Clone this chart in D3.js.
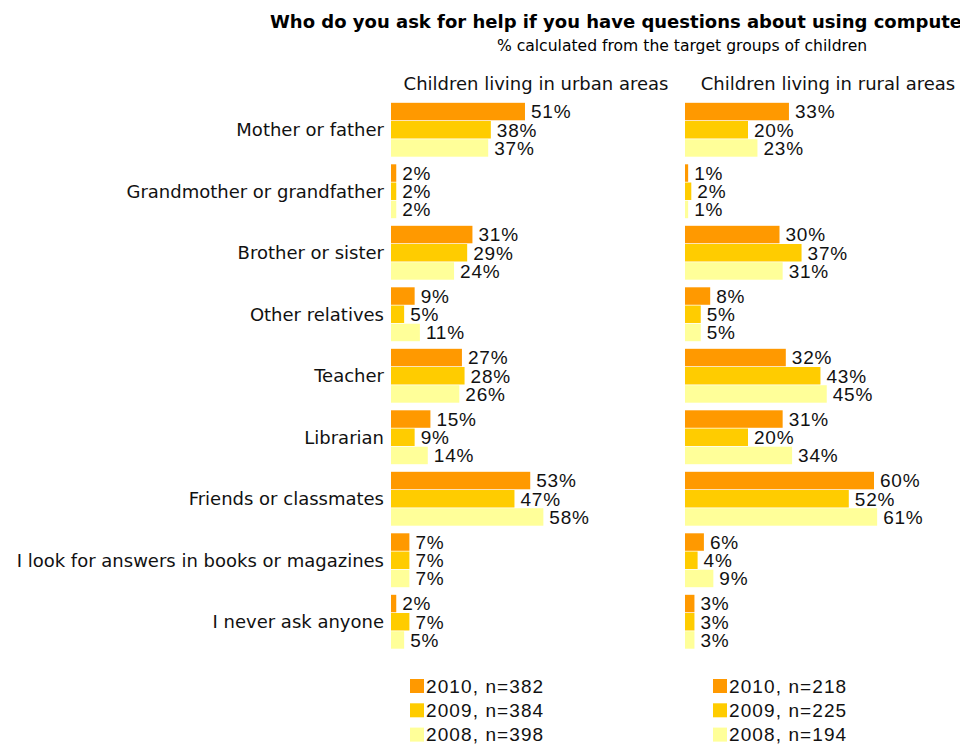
<!DOCTYPE html>
<html>
<head>
<meta charset="utf-8">
<script src="https://cdn.jsdelivr.net/npm/d3@7"></script>
<style>
  html, body { margin: 0; padding: 0; background: #fff; }
  svg { display: block; }
</style>
</head>
<body>
<script>
// Categories (answers to the question)
const categories = [
  "Mother or father",
  "Grandmother or grandfather",
  "Brother or sister",
  "Other relatives",
  "Teacher",
  "Librarian",
  "Friends or classmates",
  "I look for answers in books or magazines",
  "I never ask anyone"
];

// Survey years, drawn top to bottom within each category
const years = ["2010", "2009", "2008"];

// Urban children, % per year
const urban2010 = [51, 2, 31, 9, 27, 15, 53, 7, 2];
const urban2009 = [38, 2, 29, 5, 28, 9, 47, 7, 7];
const urban2008 = [37, 2, 24, 11, 26, 14, 58, 7, 5];

// Rural children, % per year
const rural2010 = [33, 1, 30, 8, 32, 31, 60, 6, 3];
const rural2009 = [20, 2, 37, 5, 43, 20, 52, 4, 3];
const rural2008 = [23, 1, 31, 5, 45, 34, 61, 9, 3];

// Legend texts (sample sizes)
const urbanLegend = ["2010, n=382", "2009, n=384", "2008, n=398"];
const ruralLegend = ["2010, n=218", "2009, n=225", "2008, n=194"];

const titleText = "Who do you ask for help if you have questions about using computers?";
const subtitleText = "% calculated from the target groups of children";
const panelTitles = ["Children living in urban areas", "Children living in rural areas"];

const W = 960, H = 745;
const colors = d3.scaleOrdinal().domain(years).range(["#FF9900", "#FFCC00", "#FFFF99"]);
const labelFont = "Tahoma, 'DejaVu Sans', Verdana, sans-serif";
const valueFont = "Arial, 'Liberation Sans', sans-serif";

const svg = d3.select("body").append("svg")
  .attr("width", W).attr("height", H)
  .attr("viewBox", `0 0 ${W} ${H}`);

// Title (runs past the right edge and is cut by the canvas)
svg.append("text")
  .attr("x", 270).attr("y", 28)
  .attr("font-family", labelFont)
  .attr("font-weight", "bold")
  .attr("font-size", 18)
  .attr("fill", "#000")
  .text(titleText);

svg.append("text")
  .attr("x", 682).attr("y", 51)
  .attr("text-anchor", "middle")
  .attr("font-family", labelFont)
  .attr("font-size", 15.6)
  .attr("fill", "#000")
  .text(subtitleText);

// Shared vertical layout
const y = d3.scaleBand()
  .domain(categories)
  .range([99, 99 + 61.5 * categories.length])
  .paddingInner(0.1)
  .paddingOuter(0.05);

const yInner = d3.scaleBand()
  .domain(years)
  .range([0, y.bandwidth()])
  .padding(0.04);

// Category labels
svg.append("g")
  .selectAll("text")
  .data(categories)
  .join("text")
  .attr("x", 384)
  .attr("y", d => y(d) + y.bandwidth() / 2)
  .attr("dy", "0.35em")
  .attr("text-anchor", "end")
  .attr("font-family", labelFont)
  .attr("font-size", 18)
  .attr("fill", "#111")
  .text(d => d);

const panels = [
  { title: panelTitles[0], x0: 391, pxPer100: 262.7, titleX: 536,
    series: [urban2010, urban2009, urban2008], legend: urbanLegend, legendX: 410 },
  { title: panelTitles[1], x0: 685, pxPer100: 315, titleX: 828,
    series: [rural2010, rural2009, rural2008], legend: ruralLegend, legendX: 713 }
];

panels.forEach(p => {
  const x = d3.scaleLinear().domain([0, 100]).range([p.x0, p.x0 + p.pxPer100]);
  const g = svg.append("g");

  g.append("text")
    .attr("x", p.titleX).attr("y", 90)
    .attr("text-anchor", "middle")
    .attr("font-family", labelFont)
    .attr("font-size", 18)
    .attr("fill", "#111")
    .text(p.title);

  const rows = [];
  categories.forEach((c, i) => {
    years.forEach((yr, k) => rows.push({ cat: c, year: yr, value: p.series[k][i] }));
  });

  g.selectAll("rect.bar")
    .data(rows)
    .join("rect")
    .attr("class", "bar")
    .attr("x", x(0))
    .attr("y", d => y(d.cat) + yInner(d.year))
    .attr("width", d => x(d.value) - x(0))
    .attr("height", yInner.bandwidth())
    .attr("fill", d => colors(d.year));

  g.selectAll("text.val")
    .data(rows)
    .join("text")
    .attr("class", "val")
    .attr("x", d => x(d.value) + 6)
    .attr("y", d => y(d.cat) + yInner(d.year) + yInner.bandwidth() / 2)
    .attr("dy", "0.36em")
    .attr("font-family", valueFont)
    .attr("font-size", 19)
    .attr("letter-spacing", 0.8)
    .attr("fill", "#111")
    .text(d => d.value + "%");

  // Legend
  const lg = g.append("g");
  p.legend.forEach((t, k) => {
    const ly = 679 + k * 24.3;
    lg.append("rect")
      .attr("x", p.legendX).attr("y", ly)
      .attr("width", 14).attr("height", 14)
      .attr("fill", colors(years[k]));
    lg.append("text")
      .attr("x", p.legendX + 16).attr("y", ly + 7)
      .attr("dy", "0.36em")
      .attr("font-family", valueFont)
      .attr("font-size", 19)
      .attr("letter-spacing", 1.1)
      .attr("fill", "#111")
      .text(t);
  });
});
</script>
</body>
</html>
